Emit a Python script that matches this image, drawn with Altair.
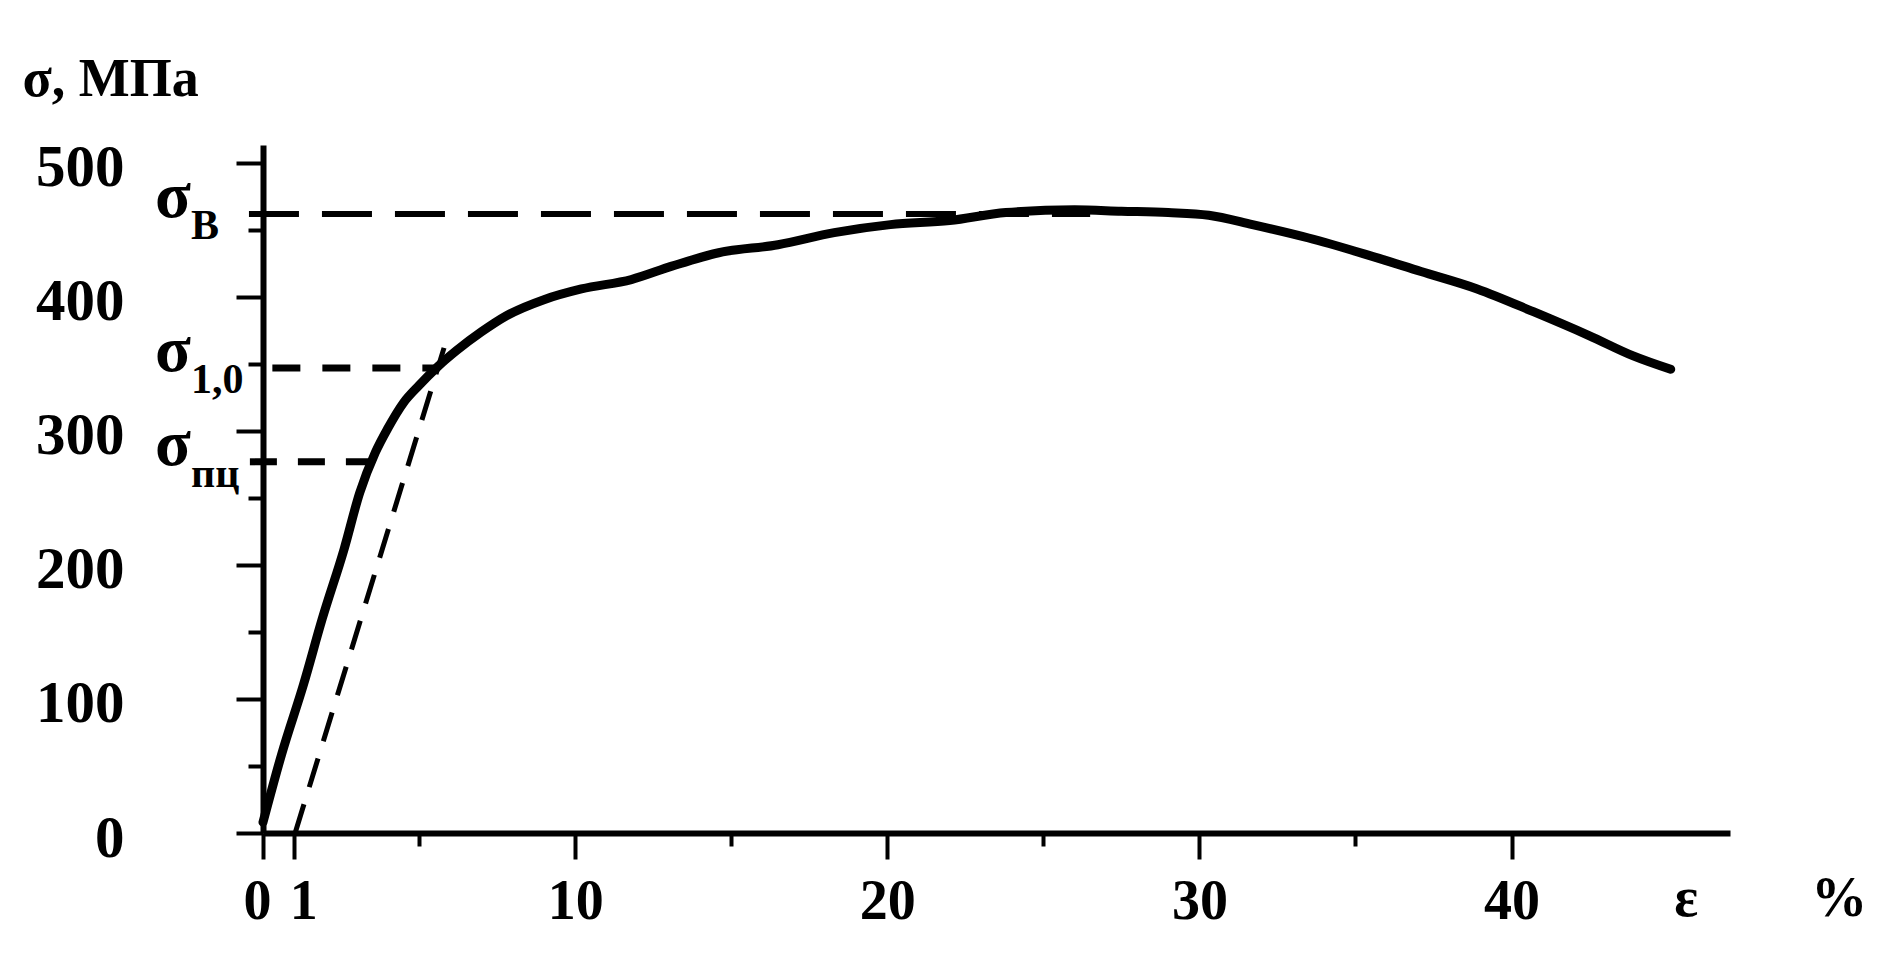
import altair as alt
import pandas as pd

# ---- data ----
strain = [0.0, 0.6, 1.3, 1.9, 2.6, 3.1, 3.6, 4.0, 4.5, 5.0,
          5.6, 6.2, 7.0, 7.8, 9.0, 10.2, 11.8, 13.1, 14.6, 16.5,
          18.3, 20.1, 22.0, 23.8, 26.0, 27.5, 29.0, 30.3, 31.7, 33.5,
          35.3, 37.1, 38.9, 40.7, 42.5, 43.9, 45.1]
stress = [8, 59, 111, 160, 212, 254, 284, 302, 321, 334,
          348, 360, 374, 386, 398, 406, 413, 423, 433, 439,
          448, 454, 457, 463, 465, 464, 463, 461, 454, 444,
          432, 419, 406, 389, 371, 356, 346]

offset_strain = [1.03, 5.8]
offset_stress = [0, 362]

level_names = ["В", "1,0", "пц"]
level_values = [462, 347, 277]
level_starts = [-0.45, 0.3, -0.42]
level_ends = [26.5, 5.6, 3.6]

x_ticks = [0, 1, 5, 10, 15, 20, 25, 30, 35, 40]
x_labels = [0, 1, 10, 20, 30, 40]
y_ticks = [0, 50, 100, 150, 200, 250, 300, 350, 400, 450, 500]
y_labels = [0, 100, 200, 300, 400, 500]

unit_texts = ["ε", "%"]
unit_pos = [45.6, 50.5]

y_title = "σ, МПа"

# ---- styles ----
FONT = "Liberation Serif"
level_dash = [[50, 23], [28, 22], [27, 21]]
level_width = [6, 7, 7]

X = alt.Scale(domain=[0, 47], nice=False, zero=False)
Y = alt.Scale(domain=[0, 513.4], nice=False, zero=False)

lab_x = "indexof([" + ",".join(str(v) for v in x_labels) + "], datum.value) >= 0 ? datum.label : ''"
lab_y = "indexof([" + ",".join(str(v) for v in y_labels) + "], datum.value) >= 0 ? datum.label : ''"

x_axis = alt.Axis(
    values=x_ticks, labelExpr=lab_x, title=None, grid=False,
    domainWidth=6, domainColor="black",
    tickColor="black", tickWidth=4,
    tickSize={"condition": {"test": "datum.value % 10 === 5", "value": 13}, "value": 26},
    labelOffset={"condition": [{"test": "datum.value === 0", "value": -6},
                               {"test": "datum.value === 1", "value": 9}],
                 "value": 0},
    labelFont=FONT, labelFontSize=56, labelFontWeight="bold", labelColor="black",
    labelBaseline="middle", labelPadding=42, labelFlush=False, labelOverlap=False,
)
y_axis = alt.Axis(
    values=y_ticks, labelExpr=lab_y, grid=False,
    title=y_title, titleAngle=0, titleX=-241, titleY=-50, titleAlign="left",
    titleBaseline="alphabetic", titleFont=FONT, titleFontSize=54,
    titleFontWeight="bold", titleColor="black",
    domainWidth=6, domainColor="black",
    tickColor="black", tickWidth=4,
    tickSize={"condition": {"test": "datum.value % 100 === 50", "value": 15}, "value": 27},
    labelFont=FONT, labelFontSize=59, labelFontWeight="bold", labelColor="black",
    labelAlign="right", labelBaseline="middle", labelPadding=112, labelOffset=5,
    labelFlush=False, labelOverlap=False,
)


def xe(field):
    return alt.X(field, type="quantitative", scale=X, axis=x_axis)


def ye(field):
    return alt.Y(field, type="quantitative", scale=Y, axis=y_axis)


curve_df = pd.DataFrame({"strain": strain, "stress": stress})
curve = alt.Chart(curve_df).mark_line(
    color="black", strokeWidth=9, strokeCap="round", strokeJoin="round",
    interpolate="monotone",
).encode(x=xe("strain"), y=ye("stress"))

offset_df = pd.DataFrame({"strain": offset_strain, "stress": offset_stress})
offset_line = alt.Chart(offset_df).mark_line(
    color="black", strokeWidth=5, strokeDash=[30, 18],
).encode(x=xe("strain"), y=ye("stress"))

layers = [curve, offset_line]
for lvl, s, e, dash, w in zip(level_values, level_starts, level_ends, level_dash, level_width):
    df = pd.DataFrame({"strain": [s], "x1": [e], "stress": [lvl]})
    layers.append(
        alt.Chart(df).mark_rule(color="black", strokeDash=dash, strokeWidth=w).encode(
            x=xe("strain"), x2="x1:Q", y=ye("stress"),
        )
    )

sig_df = pd.DataFrame({"sub": level_names, "stress": level_values,
                       "strain": [0] * len(level_values)})
sigma_text = alt.Chart(sig_df).mark_text(
    text="σ", align="right", baseline="alphabetic", dx=-72, dy=3,
    font=FONT, fontSize=66, fontWeight="bold", color="black",
).encode(x=xe("strain"), y=ye("stress"))
sub_text = alt.Chart(sig_df).mark_text(
    align="left", baseline="alphabetic", dx=-72, dy=25,
    font=FONT, fontSize=42, fontWeight="bold", color="black",
).encode(x=xe("strain"), y=ye("stress"), text="sub:N")

unit_df = pd.DataFrame({"t": unit_texts, "strain": unit_pos,
                        "stress": [0] * len(unit_texts)})
unit_text = alt.Chart(unit_df).mark_text(
    baseline="middle", dy=66, font=FONT, fontSize=56, fontWeight="bold", color="black",
).encode(x=xe("strain"), y=ye("stress"), text="t:N")

layers += [sigma_text, sub_text, unit_text]

chart = alt.layer(*layers).properties(
    width=1467, height=688,
    autosize=alt.AutoSizeParams(type="none"),
    padding={"left": 255, "top": 137, "right": 143, "bottom": 100},
).configure(background="white").configure_view(stroke=None)

chart.save("out.html", embed_options={"renderer": "svg", "actions": False})
